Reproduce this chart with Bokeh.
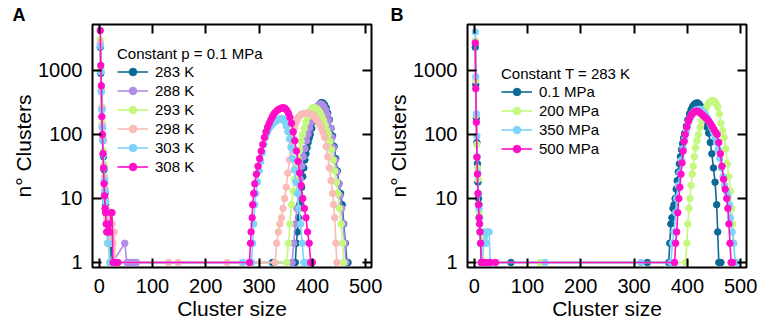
from bokeh.plotting import figure
from bokeh.layouts import row
from bokeh.models import (FixedTicker, NumeralTickFormatter, LinearAxis, LogAxis,
                          Legend, LegendItem, Range1d, ColumnDataSource,
                          CustomJSTickFormatter)
from bokeh.embed import file_html
from bokeh.resources import INLINE

FONT = "Liberation Sans"

x_ticks = [0, 100, 200, 300, 400, 500]
y_ticks = [1, 10, 100, 1000]

# ---------------- Panel A : constant p = 0.1 MPa ----------------
labels_a = ["283 K", "288 K", "293 K", "298 K", "303 K", "308 K"]
colors_a = ["#0d6896", "#b28be8", "#c4f87e", "#f9bcb6", "#7ed3fa", "#ff0fc8"]

pts_a_283k = [(2,2300),(3,900),(4,480),(5,250),(6,130),(7,80),(8,45),(9,28),(10,18),(11,12),(12,8),(13,6),(14,4),(15,3),(16,3),(17,2),(18,2),(20,1),(22,2),(25,1),(30,1),(325,1),
              (368,1),(370,2),(372,3),(374,5),(376,8),(378,10),(380,15),(382,22),(384,30),(386,40),(388,50),(390,62),(392,75),(394,88),(396,100),(399,125),(402,160),(405,200),(408,240),(411,275),(414,300),(417,315),(420,310),(423,290),(426,260),(429,215),(432,170),(435,125),(438,95),(441,65),(444,42),(447,27),(450,17),(453,12),(456,8),(459,4),(462,2),(465,1),(467,1)]
pts_a_288k = [(2,2600),(3,1000),(4,500),(5,260),(6,140),(7,85),(8,50),(9,30),(10,20),(11,13),(12,9),(13,6),(14,4),(15,3),(16,2),(18,3),(20,1),(25,1),(48,2),(52,1),(56,1),(60,1),(65,1),(70,1),
              (362,1),(365,2),(368,4),(371,7),(374,12),(377,20),(380,32),(383,45),(386,60),(389,80),(392,100),(395,125),(398,155),(401,190),(404,225),(407,255),(410,280),(413,295),(416,300),(419,290),(422,270),(425,240),(428,205),(431,165),(434,125),(437,90),(440,62),(443,40),(446,26),(449,17),(452,11),(455,7),(458,4),(461,2),(463,1)]
pts_a_293k = [(2,3000),(3,1100),(4,520),(5,270),(6,150),(7,90),(8,55),(9,34),(10,22),(11,14),(12,9),(13,6),(14,4),(15,3),(16,2),(17,2),(19,1),(22,1),
              (352,1),(355,2),(358,4),(361,8),(364,13),(367,20),(370,30),(373,42),(376,58),(379,78),(382,100),(385,125),(388,155),(391,185),(394,215),(397,240),(400,258),(403,265),(406,260),(409,250),(412,235),(415,215),(418,190),(421,165),(424,140),(427,115),(430,100),(433,78),(436,58),(439,40),(442,27),(445,18),(448,12),(451,7),(454,4),(457,2),(459,1)]
pts_a_298k = [(2,2700),(3,1000),(4,480),(5,260),(6,140),(7,85),(8,52),(9,32),(10,21),(11,14),(12,10),(13,7),(14,5),(15,4),(16,3),(17,3),(18,2),(20,3),(22,2),(24,4),(26,2),(28,3),(30,1),(130,1),(148,1),(240,1),(268,1),
              (330,1),(333,2),(336,3),(339,4),(342,5),(345,7),(348,10),(351,15),(354,25),(357,40),(360,65),(363,95),(366,125),(369,150),(372,175),(375,192),(378,203),(381,210),(384,213),(387,215),(390,214),(393,212),(396,208),(399,202),(402,195),(405,185),(408,172),(411,158),(414,142),(417,125),(420,108),(423,90),(426,65),(429,45),(432,30),(435,19),(438,12),(440,8),(442,5),(444,2),(446,1)]
pts_a_303k = [(2,2400),(3,950),(4,460),(5,240),(6,130),(7,80),(8,48),(9,30),(10,19),(11,13),(12,9),(13,6),(14,4),(15,3),(16,2),(17,3),(18,2),(20,1),(25,1),(270,1),
              (286,1),(288,2),(290,4),(292,8),(294,12),(297,18),(300,27),(303,38),(306,52),(309,70),(312,90),(315,105),(318,120),(321,132),(324,142),(327,150),(330,158),(333,165),(336,170),(339,175),(342,178),(345,175),(348,160),(351,135),(354,110),(357,85),(360,62),(363,42),(366,28),(369,18),(372,12),(375,7),(378,4),(381,2),(384,1),(390,1)]
pts_a_308k = [(2,4200),(3,1200),(4,580),(5,190),(6,100),(7,50),(8,30),(9,17),(10,11),(11,7),(12,6),(13,4),(14,3),(16,3),(18,4),(20,3),(22,6),(24,6),(26,1),(30,1),(35,1),
              (282,1),(284,2),(285,3),(287,5),(288,8),(290,12),(292,17),(295,24),(298,32),(301,42),(304,55),(307,70),(310,90),(313,110),(316,130),(319,150),(322,170),(325,190),(328,210),(331,225),(334,238),(337,248),(340,255),(343,260),(346,262),(349,255),(352,240),(355,215),(358,185),(361,150),(364,110),(367,80),(370,55),(373,38),(376,25),(379,16),(382,10),(385,7),(388,5),(391,3),(394,2),(397,1),(400,1)]

# ---------------- Panel B : constant T = 283 K ----------------
labels_b = ["0.1 MPa", "200 MPa", "350 MPa", "500 MPa"]
colors_b = ["#0d6896", "#c4f87e", "#7ed3fa", "#ff0fc8"]

pts_b_01 = [(2,2300),(3,600),(4,180),(5,75),(6,35),(7,18),(8,10),(9,8),(10,5),(11,3),(12,2),(14,1),(20,1),(69,1),(325,1),
            (365,1),(367,2),(369,4),(371,5),(373,7),(375,8),(377,10),(379,14),(381,19),(383,26),(385,35),(387,45),(389,58),(391,72),(393,88),(395,105),(398,135),(401,170),(404,210),(407,245),(410,275),(413,295),(416,308),(419,312),(422,300),(425,275),(428,240),(431,200),(434,165),(437,130),(440,105),(443,75),(446,50),(449,30),(452,18),(455,8),(457,3),(459,1),(463,1)]
pts_b_200 = [(2,2900),(3,700),(4,200),(5,70),(6,30),(7,20),(8,12),(9,6),(10,4),(11,3),(12,3),(14,2),(16,3),(18,1),(124,1),
             (397,1),(399,2),(401,4),(403,7),(405,10),(407,16),(409,24),(411,32),(413,45),(415,62),(418,80),(421,100),(424,130),(427,165),(430,200),(433,240),(436,270),(439,300),(442,320),(445,335),(448,340),(451,330),(454,305),(457,270),(460,210),(463,150),(466,115),(469,90),(472,60),(475,35),(478,22),(481,13),(483,7),(485,4),(487,2),(489,1)]
pts_b_350 = [(2,4000),(3,800),(4,210),(5,95),(6,45),(7,25),(8,12),(9,7),(10,5),(11,3),(12,2),(14,1),(18,2),(20,3),(23,2),(25,3),(28,3),(30,1),(133,1),(313,1),
             (369,1),(372,2),(375,3),(378,6),(380,10),(383,16),(386,25),(389,40),(392,60),(395,85),(398,110),(401,140),(404,170),(407,195),(410,215),(413,230),(416,240),(419,245),(422,248),(425,245),(428,235),(431,222),(434,205),(437,185),(440,165),(443,145),(446,125),(449,108),(452,92),(455,75),(458,58),(461,42),(464,30),(467,22),(470,16),(473,13),(476,11),(479,8),(481,5),(484,3),(487,2),(490,1),(492,1)]
pts_b_500 = [(2,2700),(3,520),(4,155),(5,44),(6,24),(7,12),(8,8),(9,5),(10,4),(11,3),(12,2),(13,1),(15,1),(18,1),(20,1),(25,1),(30,1),(40,1),
             (376,1),(378,2),(380,3),(382,6),(384,10),(386,15),(388,24),(390,36),(392,55),(394,78),(396,100),(399,130),(402,160),(405,185),(408,205),(411,218),(414,228),(417,232),(420,230),(423,220),(426,210),(429,200),(432,190),(435,180),(438,170),(441,158),(444,145),(447,132),(450,120),(453,108),(456,100),(459,75),(462,50),(465,32),(468,20),(471,14),(474,10),(476,7),(478,4),(480,2),(482,1),(485,1)]

series_a = [pts_a_283k, pts_a_288k, pts_a_293k, pts_a_298k, pts_a_303k, pts_a_308k]
series_b = [pts_b_01, pts_b_200, pts_b_350, pts_b_500]


def style_axis(ax, ticks, show_labels):
    ax.ticker = FixedTicker(ticks=ticks)
    ax.axis_line_color = None
    ax.major_tick_in = 9
    ax.major_tick_out = 0
    ax.major_tick_line_width = 2
    ax.major_tick_line_color = "black"
    ax.minor_tick_line_color = None
    ax.major_label_text_font = FONT
    if show_labels:
        ax.major_label_text_font_size = "20px"
        ax.major_label_text_color = "black"
    else:
        ax.formatter = CustomJSTickFormatter(code="return ''")
        ax.major_label_text_font_size = "1px"
        ax.major_label_standoff = 0


def make_panel(series, labels, colors, legend_title, letter, letter_offset,
               width, mbl, mbr, legend_loc):
    p = figure(width=width, height=322, y_axis_type="log",
               x_range=Range1d(-12.6, 511), y_range=Range1d(0.835, 5230),
               output_backend="svg", toolbar_location=None,
               min_border_left=mbl, min_border_right=mbr,
               min_border_top=24, min_border_bottom=55)
    p.outline_line_color = "black"
    p.outline_line_width = 2
    p.grid.visible = False

    p.title.text = letter
    p.title.text_font = FONT
    p.title.text_font_size = "18px"
    p.title.text_font_style = "bold"
    p.title.text_color = "black"
    p.title.align = "left"
    p.title.vertical_align = "top"
    p.title.offset = letter_offset
    p.title.standoff = -5

    xa = p.xaxis[0]
    style_axis(xa, x_ticks, True)
    xa.major_label_standoff = 11
    xa.axis_label = "Cluster size"
    xa.axis_label_text_font = FONT
    xa.axis_label_text_font_size = "21px"
    xa.axis_label_text_font_style = "normal"
    xa.axis_label_text_color = "black"
    xa.axis_label_standoff = 1

    ya = p.yaxis[0]
    style_axis(ya, y_ticks, True)
    ya.formatter = NumeralTickFormatter(format="0")
    ya.major_label_standoff = 10
    ya.axis_label = "n° Clusters"
    ya.axis_label_text_font = FONT
    ya.axis_label_text_font_size = "21px"
    ya.axis_label_text_font_style = "normal"
    ya.axis_label_text_color = "black"
    ya.axis_label_standoff = 0

    top_ax = LinearAxis()
    style_axis(top_ax, x_ticks, False)
    p.add_layout(top_ax, "above")
    right_ax = LogAxis()
    style_axis(right_ax, y_ticks, False)
    p.add_layout(right_ax, "right")

    items = []
    for pts, lab, col in zip(series, labels, colors):
        src = ColumnDataSource(data=dict(x=[q[0] for q in pts], y=[q[1] for q in pts]))
        lr = p.line("x", "y", source=src, line_color=col, line_width=1.6)
        sr = p.scatter("x", "y", source=src, size=6.5, fill_color=col, line_color=col)
        items.append(LegendItem(label=lab, renderers=[lr, sr]))

    leg = Legend(items=items, title=legend_title, location=legend_loc,
                 label_text_font=FONT, label_text_font_size="15px",
                 label_text_color="black",
                 title_text_font=FONT, title_text_font_size="15px",
                 title_text_font_style="normal", title_text_color="black",
                 title_standoff=0,
                 label_height=19, glyph_height=19, glyph_width=31,
                 label_standoff=7, spacing=0, padding=0, margin=0,
                 border_line_color=None, background_fill_alpha=0)
    p.add_layout(leg)
    return p


pa = make_panel(series_a, labels_a, colors_a, "Constant p = 0.1 MPa", "A", -80,
                384, 92, 13, (25, 91))
pb = make_panel(series_b, labels_b, colors_b, "Constant T = 283 K", "B", -77,
                376, 83, 14, (34, 109))

layout = row(pa, pb)
open("out.html", "w").write(file_html(layout, INLINE))
